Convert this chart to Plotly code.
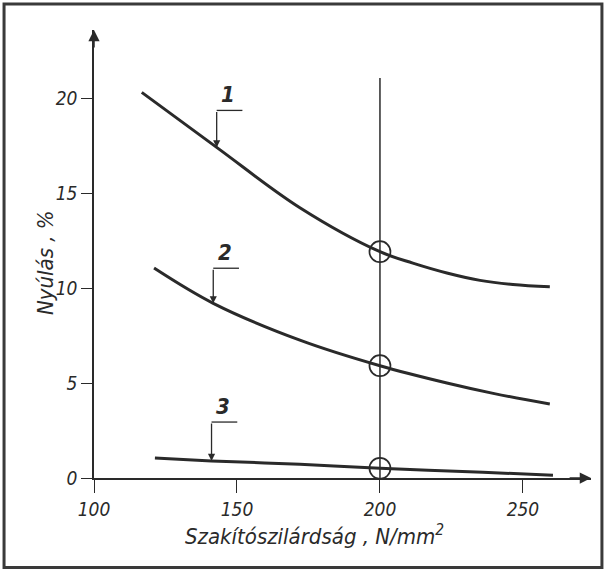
import plotly.graph_objects as go

# Tensile strength (N/mm^2) vs elongation (%) for three material groups
x1 = [116.7, 142.9, 172.0, 200.0, 211.5, 223.4, 235.0, 246.5, 259.4]
y1 = [20.33, 17.43, 14.25, 11.93, 11.33, 10.81, 10.42, 10.20, 10.08]

x2 = [121.0, 141.7, 172.0, 200.0, 223.4, 240.0, 259.4]
y2 = [11.07, 9.21, 7.27, 5.92, 5.01, 4.45, 3.90]

x3 = [121.3, 141.1, 172.0, 200.0, 236.0, 260.5]
y3 = [1.05, 0.90, 0.72, 0.51, 0.30, 0.15]

curves = [(x1, y1, "1"), (x2, y2, "2"), (x3, y3, "3")]
leader_index = 1          # point on each curve that the numbered pointer marks
x_mark = 200.0            # reference strength marked by the vertical line
x_ticks = [100, 150, 200, 250]
y_ticks = [0, 5, 10, 15, 20]

X_RANGE = [100, 273.8]
Y_RANGE = [0, 23.62]

INK = "#2a2a2a"
FONT = "DejaVu Sans Condensed, Liberation Sans, DejaVu Sans, sans-serif"

fig = go.Figure()

# reference line at 200 N/mm^2
fig.add_shape(type="line", x0=x_mark, x1=x_mark, y0=0, y1=21.09,
              xref="x", yref="y", line=dict(color=INK, width=1.5))

for xs, ys, name in curves:
    fig.add_trace(go.Scatter(x=xs, y=ys, mode="lines", line_shape="spline",
                             line=dict(color=INK, width=3), showlegend=False,
                             hoverinfo="skip"))

# open circles where each curve crosses the reference line
circ_y = [ys[xs.index(x_mark)] for xs, ys, _ in curves]
fig.add_trace(go.Scatter(x=[x_mark] * len(circ_y), y=circ_y, mode="markers",
                         marker=dict(symbol="circle-open", size=21, color=INK,
                                     line=dict(color=INK, width=1.7)),
                         showlegend=False, hoverinfo="skip"))

# numbered pointers: arrow down to the curve, short horizontal shelf, number above
rise = [1.95, 1.85, 2.05]
shelf = 9.0
for (xs, ys, name), r in zip(curves, rise):
    tx, ty = xs[leader_index], ys[leader_index]
    fig.add_annotation(x=tx, y=ty, ax=tx, ay=ty + r, xref="x", yref="y",
                       axref="x", ayref="y", text="", showarrow=True,
                       arrowhead=2, arrowsize=1.1, arrowwidth=1.3,
                       arrowcolor=INK, standoff=0)
    fig.add_shape(type="line", x0=tx, x1=tx + shelf, y0=ty + r, y1=ty + r,
                  xref="x", yref="y", line=dict(color=INK, width=1.3))
    fig.add_annotation(x=tx + 4.0, y=ty + r, xref="x", yref="y", text=name,
                       showarrow=False, xanchor="center", yanchor="bottom",
                       yshift=1,
                       font=dict(family=FONT, size=22, color=INK,
                                 weight="bold", style="italic"))

# axis arrowheads
fig.add_annotation(x=X_RANGE[1], y=0, ax=X_RANGE[1] - 8, ay=0, xref="x", yref="y",
                   axref="x", ayref="y", text="", showarrow=True, arrowhead=2,
                   arrowsize=1.5, arrowwidth=1.5, arrowcolor=INK, standoff=0)
fig.add_annotation(x=100, y=Y_RANGE[1], ax=100, ay=Y_RANGE[1] - 1.0, xref="x",
                   yref="y", axref="x", ayref="y", text="", showarrow=True,
                   arrowhead=2, arrowsize=1.5, arrowwidth=1.5, arrowcolor=INK,
                   standoff=0)

# axis titles
fig.add_annotation(x=0.443, y=-0.127, xref="paper", yref="paper",
                   xanchor="center", yanchor="middle",
                   text="Szakítószilárdság , N/mm<sup>2</sup>", showarrow=False,
                   font=dict(family=FONT, size=22, color=INK, style="italic"))
fig.add_annotation(x=-0.0986, y=0.482, xref="paper", yref="paper",
                   xanchor="center", yanchor="middle",
                   text="Nyúlás , %", showarrow=False, textangle=-90,
                   font=dict(family=FONT, size=22, color=INK, style="italic"))

# page frame
fig.add_shape(type="rect", xref="paper", yref="paper",
              x0=-0.181, x1=1.022, y0=-0.2, y1=1.058,
              line=dict(color="#3a3a3a", width=3), fillcolor="rgba(0,0,0,0)")

axis_font = dict(family=FONT, size=19, color=INK, style="italic")
fig.update_xaxes(range=X_RANGE, tickvals=x_ticks, ticks="outside", ticklen=13,
                 tickwidth=1.3, tickcolor=INK, showline=True, linewidth=1.5,
                 linecolor=INK, showgrid=False, zeroline=False,
                 tickfont=axis_font, fixedrange=True)
fig.update_yaxes(range=Y_RANGE, tickvals=y_ticks, ticks="outside", ticklen=11,
                 tickwidth=1.3, tickcolor=INK, showline=True, linewidth=1.5,
                 linecolor=INK, showgrid=False, zeroline=False,
                 tickfont=axis_font, fixedrange=True)

fig.update_layout(width=605, height=572,
                  margin=dict(l=94, r=14, t=30, b=94),
                  paper_bgcolor="white", plot_bgcolor="white",
                  showlegend=False)

fig.write_html("out.html")
